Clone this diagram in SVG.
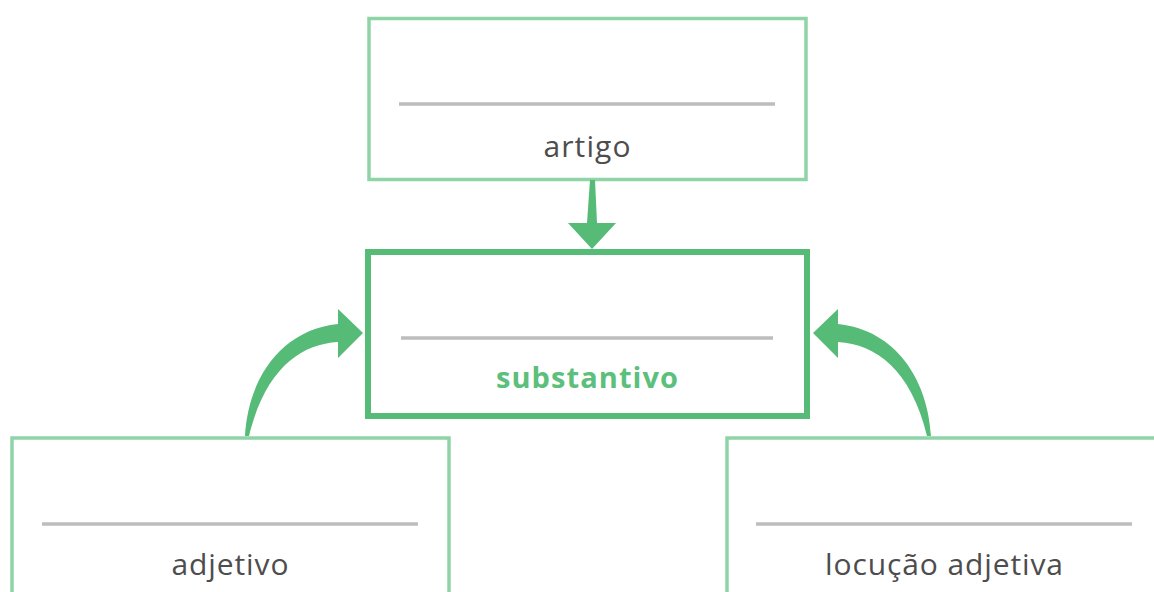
<svg xmlns="http://www.w3.org/2000/svg" width="1154" height="592" viewBox="0 0 1154 592">
<style>
.box{fill:#fff;stroke:#8fd4a6;stroke-width:3.5}
.main{fill:#fff;stroke:#55bb77;stroke-width:6}
.rule{stroke:#bdbdbd;stroke-width:3.5}
.lbl{font-family:"Open Sans","Liberation Sans",sans-serif;font-size:30px;fill:#4d4d4d;text-anchor:middle}
.bold{font-weight:bold;font-size:29px;fill:#5cbf7c}
.arr{fill:#55bb77}
</style>
<rect width="1154" height="592" fill="#fff"/>
<g id="artigo">
<rect class="box" x="369" y="18.5" width="437" height="161"/>
<line class="rule" x1="399" y1="104" x2="775" y2="104"/>
<text class="lbl" x="587" y="157" textLength="87" lengthAdjust="spacing">artigo</text>
</g>
<g id="substantivo">
<rect class="main" x="368" y="252" width="439" height="164"/>
<line class="rule" x1="401" y1="338" x2="773" y2="338"/>
<text class="lbl bold" x="587" y="388" textLength="182" lengthAdjust="spacing">substantivo</text>
</g>
<g id="adjetivo">
<rect class="box" x="12" y="438" width="437" height="170"/>
<line class="rule" x1="42" y1="524" x2="418" y2="524"/>
<text class="lbl" x="230" y="575" textLength="117" lengthAdjust="spacing">adjetivo</text>
</g>
<g id="locucao">
<rect class="box" x="727" y="438" width="450" height="170"/>
<line class="rule" x1="756" y1="524" x2="1132" y2="524"/>
<text class="lbl" x="944" y="575" textLength="238" lengthAdjust="spacing">locução adjetiva</text>
</g>
<g id="connectors">
<path class="arr" d="M590,180 L595,180 L597,223 L616,223 L592,249 L568,223 L587,223 Z"/>
<path class="arr" d="M245,436 C248,380 280,330 338,324 L338,309 L363,333 L338,358 L338,342 C300,344 265,370 249,436 Z"/>
<path class="arr" d="M931,436 C928,380 896,330 838,324 L838,309 L813,333 L838,358 L838,342 C876,344 911,370 927,436 Z"/>
</g>
</svg>
